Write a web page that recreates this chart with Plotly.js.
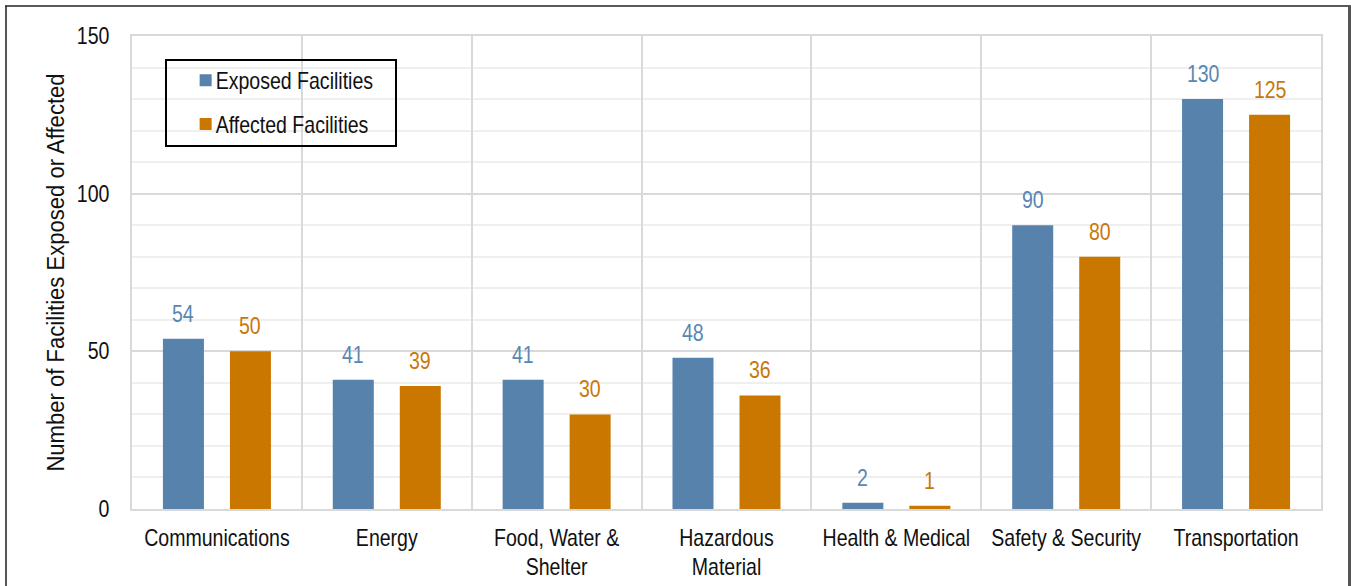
<!DOCTYPE html>
<html>
<head>
<meta charset="utf-8">
<script src="https://cdn.plot.ly/plotly-3.0.1.min.js"></script>
<style>
html,body{margin:0;padding:0;background:#fff;}
#chart{width:1351px;height:586px;}
</style>
</head>
<body>
<div id="chart"></div>
<script>
const categories = ["Communications", "Energy", "Food, Water &<br>Shelter", "Hazardous<br>Material", "Health & Medical", "Safety & Security", "Transportation"];
const exposed = [54, 41, 41, 48, 2, 90, 130];
const affected = [50, 39, 30, 36, 1, 80, 125];
const seriesNames = ["Exposed Facilities", "Affected Facilities"];
const yTicks = [0, 50, 100, 150];

const FONT = "'Liberation Sans Narrow', 'Arial Narrow', 'Liberation Sans', Arial, sans-serif";
const BLUE = "#5682ac", ORANGE = "#ca7700";
const BLUE_T = "#5a87b2", ORANGE_T = "#c8780a";
const FS = 23;

const traces = [
  {type: "bar", name: seriesNames[0], x: categories, y: exposed, marker: {color: BLUE}, legendgroup: "a", hoverinfo: "none"},
  {type: "bar", name: seriesNames[1], x: categories, y: affected, marker: {color: ORANGE}, legendgroup: "b", hoverinfo: "none"}
];

const annotations = [];
categories.forEach((c, i) => {
  annotations.push({x: c, y: exposed[i], text: String(exposed[i]), showarrow: false, xshift: -33.5, yshift: 10, yanchor: "bottom",
    font: {family: FONT, size: FS, color: BLUE_T}});
  annotations.push({x: c, y: affected[i], text: String(affected[i]), showarrow: false, xshift: 33.5, yshift: 10, yanchor: "bottom",
    font: {family: FONT, size: FS, color: ORANGE_T}});
});

const layout = {
  width: 1351, height: 586,
  margin: {l: 132, r: 30, t: 36, b: 77},
  paper_bgcolor: "#fff", plot_bgcolor: "#fff",
  barmode: "group", bargap: 0.211, bargroupgap: 0.388,
  font: {family: FONT, size: FS, color: "#111"},
  showlegend: true,
  legend: {x: 0.0367, y: 0.952, xanchor: "left", yanchor: "top", bgcolor: "rgba(0,0,0,0)", borderwidth: 0,
    font: {family: FONT, size: FS, color: "#111"}, traceorder: "grouped", tracegroupgap: 11, itemwidth: 30},
  xaxis: {type: "category", tickson: "boundaries", showgrid: true, gridcolor: "#d9d9d9", gridwidth: 2,
    ticks: "", showline: true, mirror: true, linecolor: "#d9d9d9", linewidth: 2, tickangle: 0,
    tickfont: {family: FONT, size: FS, color: "#111"}, ticklabelstandoff: 7, automargin: false},
  yaxis: {range: [0, 150], tickvals: yTicks, showgrid: true, gridcolor: "#d9d9d9", gridwidth: 2,
    minor: {dtick: 10, showgrid: true, gridcolor: "#efefef", gridwidth: 2},
    zeroline: false, ticks: "", showline: true, mirror: true, linecolor: "#d9d9d9", linewidth: 2,
    tickfont: {family: FONT, size: FS, color: "#111"}, ticklabelstandoff: 16, automargin: false,
    title: {text: "Number of Facilities Exposed or Affected", standoff: 0, font: {family: FONT, size: FS, color: "#111"}}},
  annotations: annotations,
  shapes: [
    {type: "rect", xref: "paper", yref: "paper", x0: (166-132)/1189, x1: (396-132)/1189, y0: (509-146)/473, y1: (509-60)/473,
      line: {color: "#000", width: 2}, fillcolor: "rgba(0,0,0,0)", layer: "above"},
    {type: "line", xref: "paper", yref: "paper", x0: (6-132)/1189, x1: (6-132)/1189, y0: (509-600)/473, y1: (509-6)/473, line: {color: "#555", width: 2}},
    {type: "line", xref: "paper", yref: "paper", x0: (5-132)/1189, x1: (1351-132)/1189, y0: (509-6)/473, y1: (509-6)/473, line: {color: "#222", width: 1.5}},
    {type: "line", xref: "paper", yref: "paper", x0: (1349.5-132)/1189, x1: (1349.5-132)/1189, y0: (509-600)/473, y1: (509-6)/473, line: {color: "#555", width: 3}}
  ]
};

// Emulate the condensed (narrow) typeface of the original by squeezing text horizontally.
function condense(el, s) {
  const x = parseFloat(el.getAttribute("x") || 0), y = parseFloat(el.getAttribute("y") || 0);
  const t = el.getAttribute("transform") || "";
  el.setAttribute("transform", `${t} translate(${x},${y}) scale(${s},1) translate(${-x},${-y})`);
}

Plotly.newPlot("chart", traces, layout, {displayModeBar: false, staticPlot: true}).then(gd => {
  gd.querySelectorAll("svg text").forEach(el => {
    condense(el, el.classList.contains("ytitle") ? 0.96 : 0.85);
  });
  gd.querySelectorAll(".legend .legendpoints").forEach(el => {
    const t = el.getAttribute("transform") || "";
    el.setAttribute("transform", `${t} translate(10,0)`);
  });
});
</script>
</body>
</html>
